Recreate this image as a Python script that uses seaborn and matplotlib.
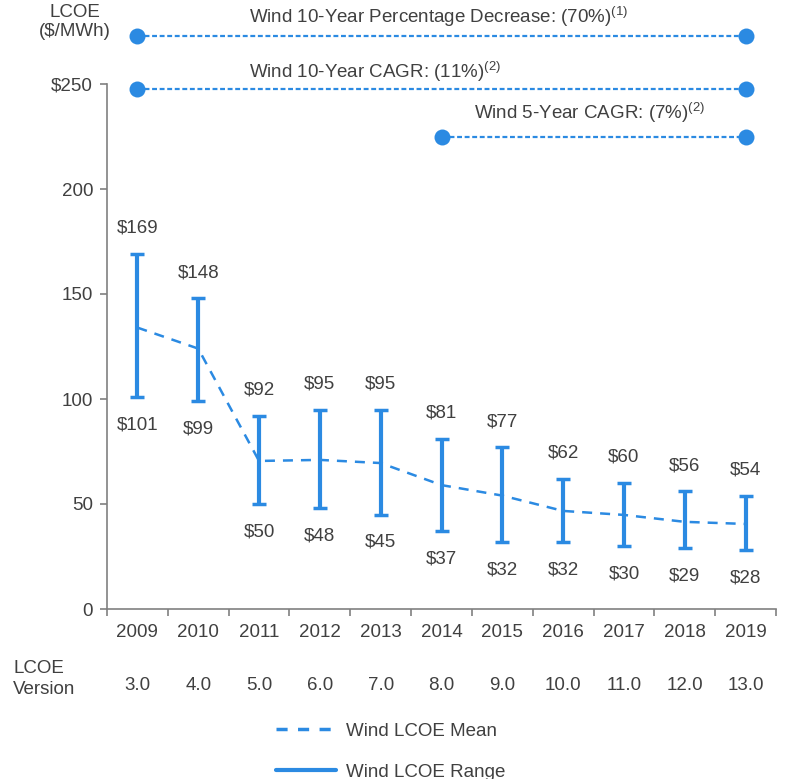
import matplotlib
matplotlib.use("Agg")
import matplotlib.pyplot as plt
import matplotlib.transforms as mtransforms
from matplotlib.lines import Line2D
import seaborn as sns
import pandas as pd
import numpy as np

years = ['2009', '2010', '2011', '2012', '2013', '2014', '2015', '2016', '2017', '2018', '2019']
versions = ['3.0', '4.0', '5.0', '6.0', '7.0', '8.0', '9.0', '10.0', '11.0', '12.0', '13.0']
range_high = [169, 148, 92, 95, 95, 81, 77, 62, 60, 56, 54]
range_low = [101, 99, 50, 48, 45, 37, 32, 32, 30, 29, 28]
mean_vals = [134, 124, 70.5, 71, 69.5, 59, 54, 46.7, 44.8, 41.5, 40.5]

summary_labels = ["Wind 10-Year Percentage Decrease: (70%)", "Wind 10-Year CAGR: (11%)", "Wind 5-Year CAGR: (7%)"]
summary_notes = ["(1)", "(2)", "(2)"]
summary_start = ['2009', '2009', '2014']
summary_end = ['2019', '2019', '2019']

sns.set_theme(style='white')
plt.rcParams['font.family'] = ['Liberation Sans', 'DejaVu Sans']
plt.rcParams['mathtext.fontset'] = 'custom'
plt.rcParams['mathtext.rm'] = 'Liberation Sans'

BLUE = '#2B8AE2'
TXT = '#404040'
SPINE = '#808080'
FS = 13.5

df = pd.DataFrame({'year': years, 'x': np.arange(len(years)), 'mean': mean_vals,
                   'low': range_low, 'high': range_high})

fig = plt.figure(figsize=(8.05, 7.79), dpi=100)
ax = fig.add_axes([107/805, 1-609/779, (776-107)/805, 588/779])

sns.lineplot(data=df, x='x', y='mean', ax=ax, color=BLUE, lw=1.8,
             dashes=False, linestyle=(0, (4, 3.2)), label='Wind LCOE Mean', legend=False)
mids = (df['high'] + df['low']) / 2
ax.errorbar(df['x'], mids, yerr=[mids - df['low'], df['high'] - mids], fmt='none',
            ecolor=BLUE, elinewidth=3, capsize=5, capthick=2.5, zorder=3)

for i, r in df.iterrows():
    ax.annotate(f"${r['high']:.0f}", (r['x'], r['high']), xytext=(0, 18.5), textcoords='offset points',
                ha='center', va='center', fontsize=FS, color=TXT)
    ax.annotate(f"${r['low']:.0f}", (r['x'], r['low']), xytext=(0, -20), textcoords='offset points',
                ha='center', va='center', fontsize=FS, color=TXT)

ax.set_xlim(-0.5, len(years) - 0.5)
ax.set_ylim(0, 280)
ax.spines['top'].set_visible(False)
ax.spines['right'].set_visible(False)
for s in ['left', 'bottom']:
    ax.spines[s].set_color(SPINE)
    ax.spines[s].set_linewidth(1.2)
ax.spines['left'].set_bounds(0, 250)

yt = [0, 50, 100, 150, 200, 250]
ax.set_yticks(yt)
ax.set_yticklabels([str(v) if v != 250 else '$250' for v in yt], fontsize=FS, color=TXT)
ax.tick_params(axis='y', which='major', left=True, length=5, width=1.2, color=SPINE, pad=5)

ax.set_xticks(df['x'])
ax.set_xticklabels(years, fontsize=FS, color=TXT)
ax.set_xticks(np.arange(-0.5, len(years), 1.0), minor=True)
ax.tick_params(axis='x', which='major', length=0, pad=11)
ax.tick_params(axis='x', which='minor', bottom=True, length=5, width=1.2, color=SPINE)
ax.set_xlabel('')
ax.set_ylabel('')

trans = mtransforms.blended_transform_factory(ax.transData, ax.transAxes)
for i, v in enumerate(versions):
    ax.text(i, (609-685)/588, v, transform=trans, ha='center', va='center', fontsize=FS, color=TXT)

fig.text(13/805, 1-679/779, 'LCOE\nVersion', ha='left', va='center', fontsize=FS, color=TXT, linespacing=1.25)
fig.text(75/805, 1-22/779, 'LCOE\n($/MWh)', ha='center', va='center', fontsize=FS, color=TXT, linespacing=1.15)

# summary rows
row_y = [273, 247.6, 224.8]
text_y = [282, 256, 236.5]
text_x = [1.84, 1.84, 7.43]
text_ha = ['left', 'left', 'center']
for k in range(3):
    xs = [years.index(summary_start[k]), years.index(summary_end[k])]
    ax.plot(xs, [row_y[k]] * 2, color=BLUE, lw=1.6, linestyle=(0, (2.2, 1.2)), clip_on=False,
            marker='o', markersize=11.5, markeredgewidth=0, zorder=4)
    ax.text(text_x[k], text_y[k], summary_labels[k] + r'$^{\mathrm{' + summary_notes[k] + '}}$',
            ha=text_ha[k], va='center', fontsize=FS, color=TXT, clip_on=False)

handles = [Line2D([], [], color=BLUE, lw=2.5, linestyle=(0, (3.2, 3))),
           Line2D([], [], color=BLUE, lw=3)]
fig.legend(handles, ['Wind LCOE Mean', 'Wind LCOE Range'], loc='upper left',
           bbox_to_anchor=(259/805, 1-706/779), frameon=False, fontsize=FS,
           handlelength=3.2, handletextpad=0.55, labelspacing=1.25, labelcolor=TXT)

fig.savefig('out.png', dpi=100)
